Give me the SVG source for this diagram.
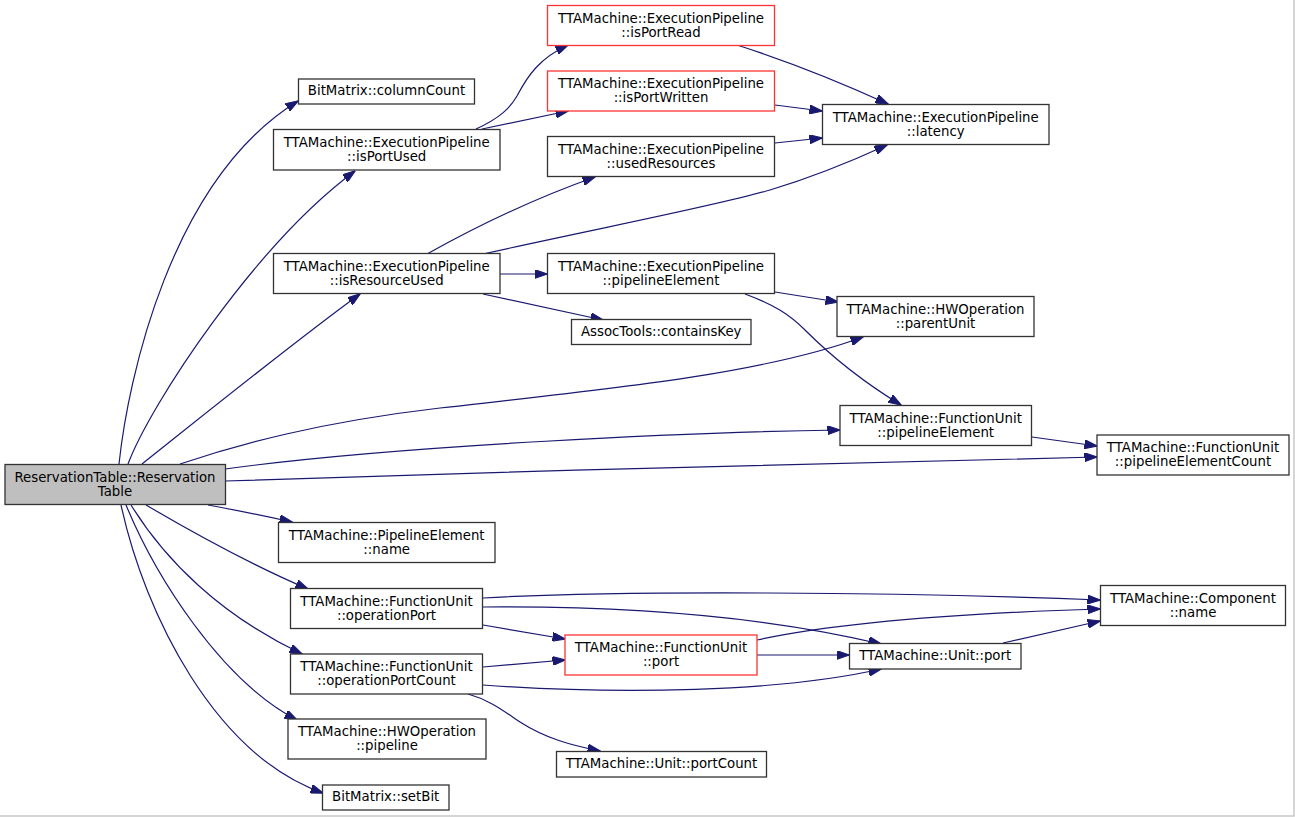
<svg xmlns="http://www.w3.org/2000/svg" width="1295" height="817" viewBox="0 0 1295 817">
<defs>
<marker id="ah" markerUnits="userSpaceOnUse" markerWidth="13" markerHeight="9" viewBox="0 0 13 9" refX="12.5" refY="4.5" orient="auto">
<path d="M0,0 L13,4.5 L0,9 z" fill="#191970" stroke="#191970" stroke-width="1"/>
</marker>
<style>
.n rect{fill:#ffffff;stroke:#333333;stroke-width:1.3}
.n.red rect{stroke:#ff3333}
.n.root rect{fill:#bfbfbf}
.n text{font-family:"DejaVu Sans","Liberation Sans",sans-serif;font-size:13.3px;fill:#000000;text-anchor:middle}
#edges path{fill:none;stroke:#191970;stroke-width:1.2;marker-end:url(#ah)}
</style>
</defs>
<rect x="0" y="0" width="1295" height="817" fill="#ffffff"/>
<path d="M1294,0 V816 H0" fill="none" stroke="#c8c8c8" stroke-width="1.5"/>

<g id="edges">
<path d="M119,464 C128,380 170,180 298,101"/>
<path d="M128,464 C150,405 255,245 355,171"/>
<path d="M142,464 C195,422 290,345 360,294"/>
<path d="M180,464 C240,444 320,422 440,408 C600,390 760,375 863,337"/>
<path d="M225,469 C400,445 700,432 840,430"/>
<path d="M225,481 C500,472 900,460 1097,457"/>
<path d="M208,505 C230,509 260,515 292,522"/>
<path d="M146,505 C180,525 240,560 308,589"/>
<path d="M131,505 C165,560 220,615 302,654"/>
<path d="M126,505 C155,575 220,680 297,720"/>
<path d="M121,505 C145,615 215,755 323,793"/>
<path d="M476,129 C500,118 510,108 517,96 C528,75 540,58 568,45"/>
<path d="M482,129 L568,111"/>
<path d="M737,45 C790,62 840,82 888,104"/>
<path d="M775,105 L822,111"/>
<path d="M775,143 L822,138"/>
<path d="M427,254 C470,230 530,200 595,177"/>
<path d="M483,254 C600,228 720,205 770,190 C810,178 850,162 887,145"/>
<path d="M500,274 L547,274"/>
<path d="M483,294 L603,320"/>
<path d="M775,292 L838,302"/>
<path d="M745,294 C775,305 790,315 805,330 C830,355 860,380 901,405"/>
<path d="M1032,437 L1097,446"/>
<path d="M483,598 C620,590 900,592 1100,600"/>
<path d="M483,607 C620,606 760,615 881,644"/>
<path d="M483,625 L565,639"/>
<path d="M483,667 L565,660"/>
<path d="M483,685 C620,695 780,692 881,669"/>
<path d="M468,694 C490,700 505,712 520,722 C545,738 570,745 600,751"/>
<path d="M757,640 C850,620 1000,612 1100,609"/>
<path d="M757,655 L849,655"/>
<path d="M1003,643 L1100,621"/>
</g>

<g id="n_root" class="n root"><rect x="5" y="464.5" width="220.5" height="40"/><text x="115" y="481.8">ReservationTable::Reservation</text><text x="115" y="495.5">Table</text></g>
<g id="n_columnCount" class="n"><rect x="298.5" y="79" width="176" height="25"/><text x="386.5" y="95.3">BitMatrix::columnCount</text></g>
<g id="n_isPortUsed" class="n"><rect x="273.5" y="129.5" width="226.5" height="40.5"/><text x="386.7" y="146.7">TTAMachine::ExecutionPipeline</text><text x="386.7" y="160.7">::isPortUsed</text></g>
<g id="n_isPortRead" class="n red"><rect x="547.5" y="5.5" width="227" height="40"/><text x="661" y="22.8">TTAMachine::ExecutionPipeline</text><text x="661" y="36.8">::isPortRead</text></g>
<g id="n_isPortWritten" class="n red"><rect x="547.5" y="71" width="227" height="40"/><text x="661" y="88.3">TTAMachine::ExecutionPipeline</text><text x="661" y="102.3">::isPortWritten</text></g>
<g id="n_usedResources" class="n"><rect x="547.5" y="136.5" width="227" height="40"/><text x="661" y="153.8">TTAMachine::ExecutionPipeline</text><text x="661" y="167.8">::usedResources</text></g>
<g id="n_latency" class="n"><rect x="822.5" y="104.5" width="226.5" height="40"/><text x="935.7" y="121.8">TTAMachine::ExecutionPipeline</text><text x="935.7" y="135.8">::latency</text></g>
<g id="n_isResourceUsed" class="n"><rect x="273.5" y="253.5" width="226.5" height="40"/><text x="386.7" y="270.8">TTAMachine::ExecutionPipeline</text><text x="386.7" y="284.8">::isResourceUsed</text></g>
<g id="n_epPipelineElement" class="n"><rect x="547.5" y="253.5" width="227" height="40"/><text x="661" y="270.8">TTAMachine::ExecutionPipeline</text><text x="661" y="284.8">::pipelineElement</text></g>
<g id="n_containsKey" class="n"><rect x="571.5" y="319.5" width="179.5" height="25"/><text x="661.2" y="335.8">AssocTools::containsKey</text></g>
<g id="n_parentUnit" class="n"><rect x="837" y="296.5" width="197" height="40"/><text x="935.5" y="313.8">TTAMachine::HWOperation</text><text x="935.5" y="327.8">::parentUnit</text></g>
<g id="n_fuPipelineElement" class="n"><rect x="840" y="405.5" width="191.5" height="40"/><text x="935.7" y="422.8">TTAMachine::FunctionUnit</text><text x="935.7" y="436.8">::pipelineElement</text></g>
<g id="n_pipelineElementCount" class="n"><rect x="1097" y="435" width="192" height="40"/><text x="1193" y="452.3">TTAMachine::FunctionUnit</text><text x="1193" y="466.3">::pipelineElementCount</text></g>
<g id="n_peName" class="n"><rect x="278.5" y="522.5" width="216.5" height="40"/><text x="386.7" y="539.8">TTAMachine::PipelineElement</text><text x="386.7" y="553.8">::name</text></g>
<g id="n_operationPort" class="n"><rect x="290.5" y="588.5" width="192" height="40"/><text x="386.5" y="605.8">TTAMachine::FunctionUnit</text><text x="386.5" y="619.8">::operationPort</text></g>
<g id="n_operationPortCount" class="n"><rect x="290.5" y="654" width="192" height="40"/><text x="386.5" y="671.3">TTAMachine::FunctionUnit</text><text x="386.5" y="685.3">::operationPortCount</text></g>
<g id="n_fuPort" class="n red"><rect x="565" y="635" width="192" height="40"/><text x="661" y="652.3">TTAMachine::FunctionUnit</text><text x="661" y="666.3">::port</text></g>
<g id="n_unitPort" class="n"><rect x="849.5" y="643.5" width="171.5" height="25.5"/><text x="935.2" y="660">TTAMachine::Unit::port</text></g>
<g id="n_componentName" class="n"><rect x="1100.5" y="585.5" width="185" height="40"/><text x="1193" y="602.8">TTAMachine::Component</text><text x="1193" y="616.8">::name</text></g>
<g id="n_hwPipeline" class="n"><rect x="288" y="719" width="198" height="40"/><text x="387" y="736.3">TTAMachine::HWOperation</text><text x="387" y="750.3">::pipeline</text></g>
<g id="n_portCount" class="n"><rect x="556.5" y="751.5" width="210" height="25.5"/><text x="661.5" y="768">TTAMachine::Unit::portCount</text></g>
<g id="n_setBit" class="n"><rect x="322.5" y="785" width="126.5" height="25"/><text x="385.7" y="801.3">BitMatrix::setBit</text></g>
</svg>
